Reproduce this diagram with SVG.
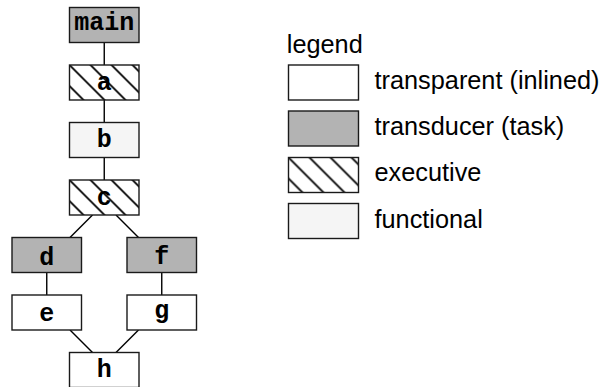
<svg xmlns="http://www.w3.org/2000/svg" width="603" height="387" viewBox="0 0 603 387">
  <style>
    .box { stroke: #1a1a1a; stroke-width: 1.4; }
    .transparent { fill: #ffffff; }
    .transducer { fill: #b3b3b3; }
    .functional { fill: #f5f5f5; }
    .executive { fill: url(#hatch); }
    .label { font-family: "Liberation Mono", "Courier New", monospace; font-weight: bold; font-size: 25px; fill: #000; text-anchor: middle; }
    .legend-text { font-family: "Liberation Sans", Arial, sans-serif; font-size: 25.3px; fill: #000; }
    .edge { stroke: #000; stroke-width: 1.4; fill: none; }
  </style>
  <defs>
    <!-- diagonal "\" hatching; tile anchored at each box's top-left corner -->
    <pattern id="hatch" patternUnits="userSpaceOnUse" x="0" y="0" width="21" height="21">
      <rect width="21" height="21" fill="#ffffff"/>
      <path d="M-2,19 l4,4 M0,0 l21,21 M19,-2 l4,4" stroke="#000" stroke-width="1.8"/>
    </pattern>
  </defs>

  <!-- connectors -->
  <g id="connectors">
    <line class="edge" x1="104.25" y1="42.5" x2="104.25" y2="65"/>
    <line class="edge" x1="104.25" y1="100" x2="104.25" y2="122.5"/>
    <line class="edge" x1="104.25" y1="157.5" x2="104.25" y2="180"/>
    <line class="edge" x1="92.5" y1="215" x2="70" y2="237.5"/>
    <line class="edge" x1="116" y1="215" x2="138.5" y2="237.5"/>
    <line class="edge" x1="46.75" y1="272.5" x2="46.75" y2="295"/>
    <line class="edge" x1="161.75" y1="272.5" x2="161.75" y2="295"/>
    <line class="edge" x1="70" y1="330" x2="92.5" y2="352.5"/>
    <line class="edge" x1="138.5" y1="330" x2="116" y2="352.5"/>
  </g>

  <!-- nodes -->
  <g id="node-main" transform="translate(69.5,7.5)">
    <rect class="box transducer" width="69.5" height="35"/>
    <text class="label" x="34.75" y="22">main</text>
  </g>
  <g id="node-a" transform="translate(69.5,65)">
    <rect class="box executive" width="69.5" height="35"/>
    <text class="label" x="34.75" y="25">a</text>
  </g>
  <g id="node-b" transform="translate(69.5,122.5)">
    <rect class="box functional" width="69.5" height="35"/>
    <text class="label" x="34.75" y="24">b</text>
  </g>
  <g id="node-c" transform="translate(69.5,180)">
    <rect class="box executive" width="69.5" height="35"/>
    <text class="label" x="34.75" y="25">c</text>
  </g>
  <g id="node-d" transform="translate(12,237.5)">
    <rect class="box transducer" width="69.5" height="35"/>
    <text class="label" x="34.75" y="27">d</text>
  </g>
  <g id="node-f" transform="translate(127,237.5)">
    <rect class="box transducer" width="69.5" height="35"/>
    <text class="label" x="34.75" y="26">f</text>
  </g>
  <g id="node-e" transform="translate(12,295)">
    <rect class="box transparent" width="69.5" height="35"/>
    <text class="label" x="34.75" y="25.5">e</text>
  </g>
  <g id="node-g" transform="translate(127,295)">
    <rect class="box transparent" width="69.5" height="35"/>
    <text class="label" x="34.75" y="22.5">g</text>
  </g>
  <g id="node-h" transform="translate(69.5,352.5)">
    <rect class="box transparent" width="69.5" height="35"/>
    <text class="label" x="34.75" y="24.5">h</text>
  </g>

  <!-- legend -->
  <g id="legend">
    <text class="legend-text" x="286.8" y="53">legend</text>
    <g id="legend-transparent" transform="translate(288.5,65)">
      <rect class="box transparent" width="70" height="35"/>
      <text class="legend-text" x="86" y="23.5">transparent (inlined)</text>
    </g>
    <g id="legend-transducer" transform="translate(288.5,111)">
      <rect class="box transducer" width="70" height="35"/>
      <text class="legend-text" x="86" y="23.5">transducer (task)</text>
    </g>
    <g id="legend-executive" transform="translate(288.5,157.5)">
      <rect class="box executive" width="70" height="35"/>
      <text class="legend-text" x="86" y="23.5">executive</text>
    </g>
    <g id="legend-functional" transform="translate(288.5,203.5)">
      <rect class="box functional" width="70" height="35"/>
      <text class="legend-text" x="86" y="24.5">functional</text>
    </g>
  </g>
</svg>
